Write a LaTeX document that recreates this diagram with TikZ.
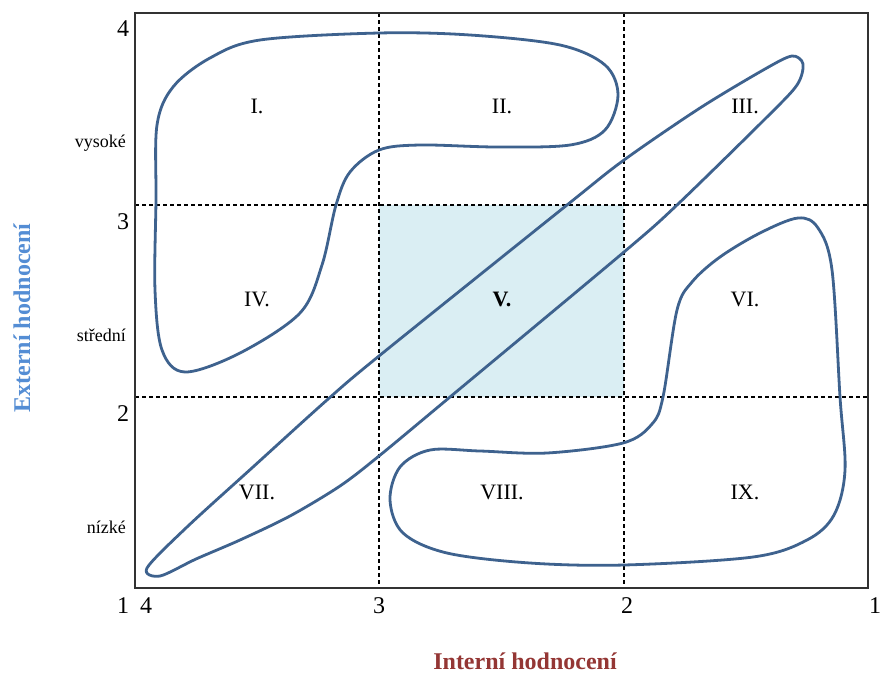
\documentclass[tikz,border=0pt]{standalone}
\usepackage{fontspec}
\setmainfont{Liberation Serif}
\definecolor{curve}{RGB}{62,98,142}
\definecolor{cellfill}{RGB}{218,238,243}
\definecolor{ytitle}{RGB}{84,141,212}
\definecolor{xtitle}{RGB}{148,54,52}
\definecolor{frame}{RGB}{50,50,50}
\tikzset{
  grid line/.style={black, line width=1.1pt, dash pattern=on 4pt off 3pt},
  region/.style={curve, line width=2.8pt, line join=round},
  cell label/.style={font=\fontsize{22}{25}\selectfont, inner sep=0pt},
  num label/.style={font=\fontsize{24}{27}\selectfont, inner sep=0pt},
  level label/.style={font=\fontsize{18}{21}\selectfont, inner sep=0pt, anchor=east},
  axis title/.style={font=\fontsize{24}{27}\selectfont\bfseries, inner sep=0pt}
}
\begin{document}
\begin{tikzpicture}[x=1pt,y=-1pt]
\useasboundingbox (0,0) rectangle (882,673);
\fill[white] (0,0) rectangle (882,673);
% shaded centre cell
\fill[cellfill] (379,205) rectangle (624,397);
% dashed grid
\draw[grid line] (379,13) -- (379,588);
\draw[grid line] (624,13) -- (624,588);
\draw[grid line] (135,205) -- (868,205);
\draw[grid line] (135,397) -- (868,397);
% region I, II, IV
\draw[region] plot[smooth cycle, tension=0.55] coordinates {
  (156,200) (157,125) (173,87) (210,58) (260,40) (379,33) (470,35)
  (560,45) (605,65) (618,95) (605,130) (570,145) (497,147) (420,145)
  (379,150) (350,172) (336,205) (322,265) (300,313) (240,353)
  (185,372) (162,350) (155,290)};
% region III, V, VII
\draw[region] plot[smooth cycle, tension=0.5] coordinates {
  (147,568) (187,527) (253,467) (327,400) (379,356) (567,205) (624,160)
  (700,108) (765,69) (792,56) (803,64) (797,85) (767,117) (677,205)
  (624,252) (450,397) (379,456) (340,486) (290,516) (240,540) (196,559)
  (160,576)};
% region VI, VIII, IX
\draw[region] plot[smooth cycle, tension=0.55] coordinates {
  (798,218) (818,228) (832,270) (840,397) (845,470) (834,515) (807,540)
  (753,557) (624,565) (530,563) (447,553) (403,533) (390,500) (400,467)
  (430,450) (480,451) (547,453) (623,443) (652,424) (663,397) (677,310)
  (692,282) (720,257) (760,233)};
% frame
\draw[frame, line width=1.8pt] (135,13) rectangle (868,588);
% cell labels
\node[cell label] (c1) at (257,106) {I.};
\node[cell label] (c2) at (502,106) {II.};
\node[cell label] (c3) at (745,106) {III.};
\node[cell label] (c4) at (257,299) {IV.};
\node[cell label, font=\fontsize{22}{25}\selectfont\bfseries] (c5) at (502,299) {V.};
\node[cell label] (c6) at (745,299) {VI.};
\node[cell label] (c7) at (257,492) {VII.};
\node[cell label] (c8) at (502,492) {VIII.};
\node[cell label] (c9) at (745,492) {IX.};
% y axis numbers and levels
\node[num label] (y4) at (123,29) {4};
\node[num label] (y3) at (123,222) {3};
\node[num label] (y2) at (123,414) {2};
\node[level label] (lv1) at (126,143) {vysoké};
\node[level label] (lv2) at (126,335) {střední};
\node[level label] (lv3) at (126,527) {nízké};
% x axis numbers
\node[num label] (x1a) at (123,606) {1};
\node[num label] (x4) at (146,606) {4};
\node[num label] (x3) at (379,606) {3};
\node[num label] (x2) at (627,606) {2};
\node[num label] (x1b) at (875,606) {1};
% axis titles
\node[axis title, text=ytitle, rotate=90] (ytit) at (22,318) {Externí hodnocení};
\node[axis title, text=xtitle] (xtit) at (525,661) {Interní hodnocení};
\end{tikzpicture}
\end{document}
